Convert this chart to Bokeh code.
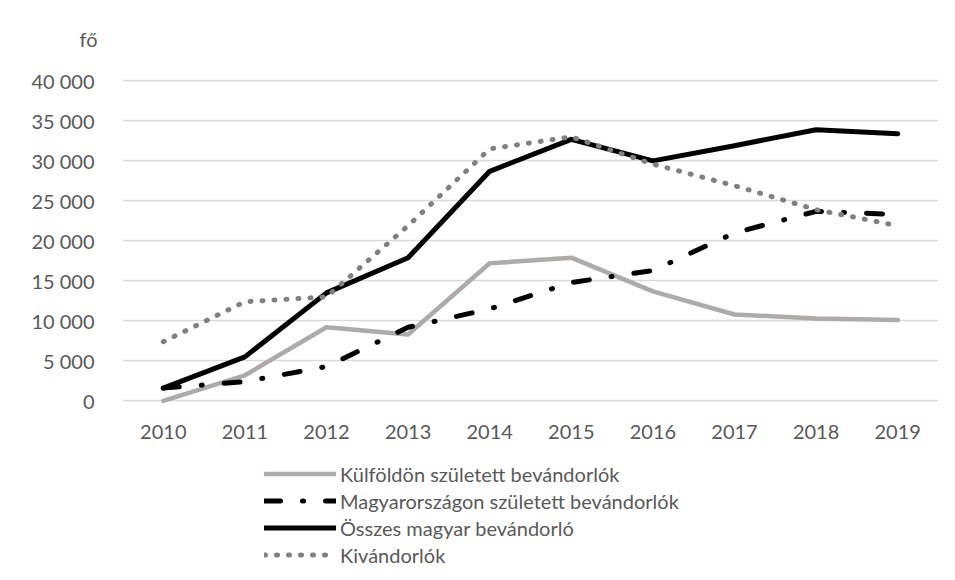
from bokeh.plotting import figure
from bokeh.models import (Range1d, FactorRange, FixedTicker, Legend, LegendItem,
                          ColumnDataSource)
from bokeh.layouts import column
from bokeh.embed import file_html
from bokeh.resources import INLINE

years = ["2010", "2011", "2012", "2013", "2014", "2015", "2016", "2017", "2018", "2019"]
kulfoldon = [0, 3200, 9200, 8300, 17200, 17900, 13700, 10800, 10300, 10100]
magyarorszagon = [1600, 2400, 4300, 9200, 11500, 14800, 16300, 21000, 23700, 23300]
osszes = [1600, 5500, 13500, 17900, 28700, 32700, 30000, 31900, 33900, 33400]
kivandorlok = [7400, 12400, 13000, 21900, 31500, 33000, 29600, 26900, 23900, 21900]

series_names = ["Külföldön született bevándorlók", "Magyarországon született bevándorlók",
                "Összes magyar bevándorló", "Kivándorlók"]
y_ticks = [0, 5000, 10000, 15000, 20000, 25000, 30000, 35000, 40000]
y_tick_labels = ["0", "5 000", "10 000", "15 000", "20 000", "25 000", "30 000", "35 000", "40 000"]
unit_label = "fő"

FONT = "Lato"
TXT = "#595959"

styles = [
    dict(line_color="#aeaaaa", line_width=4.5),
    dict(line_color="black", line_width=5, line_dash="16 22 1 22"),
    dict(line_color="black", line_width=5),
    dict(line_color="#808080", line_width=5, line_dash="1 11"),
]

src = ColumnDataSource(dict(x=years, k=kulfoldon, m=magyarorszagon, o=osszes, v=kivandorlok))

p = figure(width=948, height=455, output_backend="svg", toolbar_location=None,
           x_range=FactorRange(*years, range_padding=0),
           y_range=Range1d(-700, 40300),
           min_border_left=122, min_border_right=10, min_border_top=78, min_border_bottom=49)
p.outline_line_color = None
p.background_fill_color = "white"
p.border_fill_color = "white"

p.title.text = unit_label
p.title.align = "left"
p.title.vertical_align = "top"
p.title.offset = -43
p.title.standoff = 52
p.title.text_font = FONT
p.title.text_font_size = "20px"
p.title.text_font_style = "normal"
p.title.text_color = TXT

p.xgrid.grid_line_color = None
p.ygrid.grid_line_color = "#d9d9d9"
p.ygrid.grid_line_width = 1.5
p.yaxis.ticker = FixedTicker(ticks=y_ticks)
p.yaxis.major_label_overrides = {t: l for t, l in zip(y_ticks, y_tick_labels)}

for ax in (p.xaxis[0], p.yaxis[0]):
    ax.axis_line_color = None
    ax.major_tick_line_color = None
    ax.minor_tick_line_color = None
    ax.major_label_text_font = FONT
    ax.major_label_text_font_size = "20px"
    ax.major_label_text_color = TXT
p.yaxis.major_label_standoff = 22
p.xaxis.major_label_standoff = 12

for col, st in zip(["k", "m", "o", "v"], styles):
    p.line("x", col, source=src, line_cap="round", line_join="round", **st)

# legend panel below the chart (its frame is aligned with the chart's frame)
lf = figure(width=948, height=120, output_backend="svg", toolbar_location=None,
            x_axis_type=None, y_axis_type=None, x_range=Range1d(0, 1), y_range=Range1d(0, 1),
            min_border_left=0, min_border_right=0, min_border_top=0, min_border_bottom=0)
lf.outline_line_color = None
lf.xgrid.grid_line_color = None
lf.ygrid.grid_line_color = None
lf.background_fill_color = "white"
lf.border_fill_color = "white"
nan = float("nan")
legend_src = ColumnDataSource(dict(x=[nan], y=[nan]))
lrs = [lf.line("x", "y", source=legend_src, line_cap="round", line_join="round", **st) for st in styles]

legend = Legend(items=[LegendItem(label=n, renderers=[r]) for n, r in zip(series_names, lrs)],
                location=(142, 7), orientation="vertical",
                label_text_font=FONT, label_text_font_size="20px", label_text_color=TXT,
                glyph_width=72, glyph_height=27, label_height=27, label_standoff=4,
                spacing=0, padding=0, margin=0,
                border_line_color=None, background_fill_alpha=0)
lf.add_layout(legend)

layout = column(p, lf, spacing=0)
open("out.html", "w").write(file_html(layout, INLINE))
